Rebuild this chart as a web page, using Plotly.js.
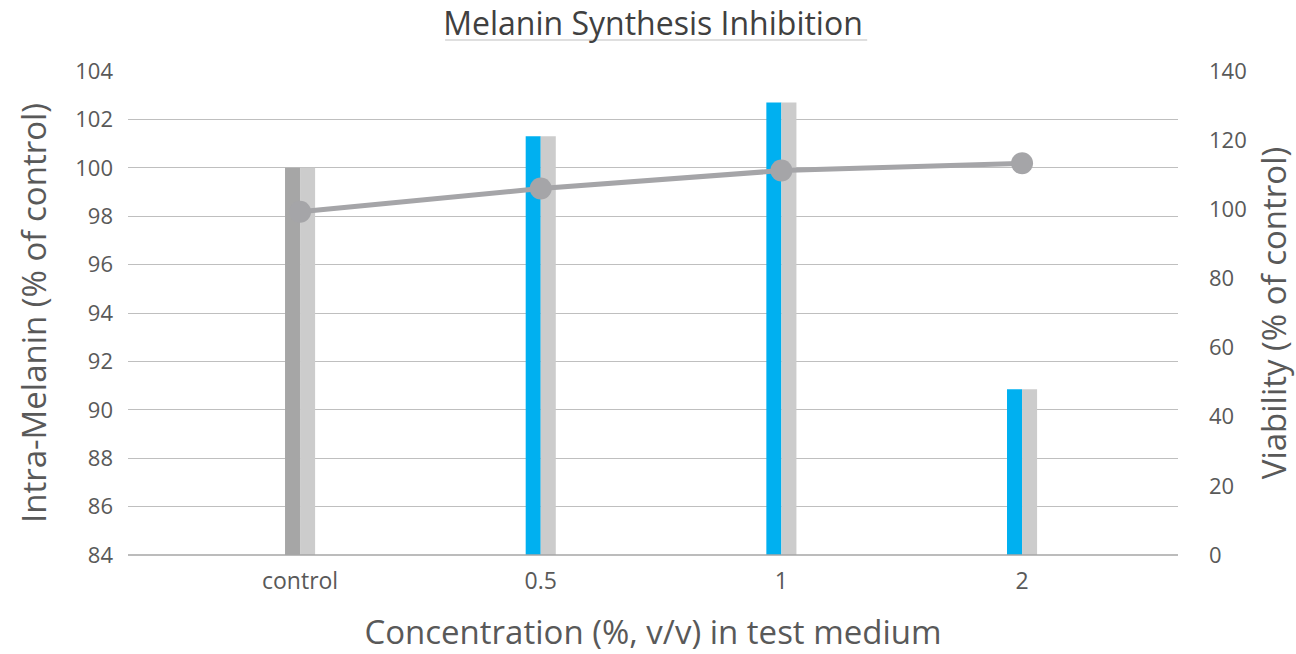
<!DOCTYPE html>
<html>
<head>
<meta charset="utf-8">
<script src="https://cdn.plot.ly/plotly-3.0.1.min.js"></script>
<style>html,body{margin:0;padding:0;background:#fff;}#chart{width:1296px;height:654px;}</style>
</head>
<body>
<div id="chart"></div>
<script>
const categories = ["control", "0.5", "1", "2"];
const melanin = [100, 101.3, 102.7, 90.85];
const melaninShadow = [100, 101.3, 102.7, 90.85];
const viability = [99.3, 106.0, 111.2, 113.3];
const melaninColors = ["#A6A6A6", "#00B0F0", "#00B0F0", "#00B0F0"];

const font = "Open Sans, Noto Sans, sans-serif";
const traces = [
  {type: "bar", x: categories, y: melanin, marker: {color: melaninColors}, yaxis: "y", hoverinfo: "y"},
  {type: "bar", x: categories, y: melaninShadow, marker: {color: "#CCCCCC"}, yaxis: "y", hoverinfo: "y"},
  {type: "scatter", mode: "lines+markers", x: categories, y: viability, yaxis: "y2",
   line: {color: "#A5A5A8", width: 5}, marker: {color: "#A5A5A8", size: 22}}
];
const layout = {
  width: 1296, height: 654,
  margin: {l: 128, r: 118, t: 71, b: 99},
  paper_bgcolor: "#fff", plot_bgcolor: "#fff",
  showlegend: false,
  barmode: "group", bargap: 0.875, bargroupgap: 0,
  font: {family: font, color: "#595959", size: 22},
  title: {text: "Melanin Synthesis Inhibition", font: {family: font, size: 32, color: "#404040"},
          x: 0.5, xref: "paper", y: 0.963, yref: "container", xanchor: "center", yanchor: "middle"},
  xaxis: {type: "category", range: [-0.715, 3.648], showgrid: false, zeroline: false,
          showline: false, ticks: "", tickfont: {size: 23, color: "#595959"},
          ticklabelstandoff: 10,
          title: {text: "Concentration (%, v/v) in test medium", font: {size: 33, color: "#595959"}, standoff: 28}},
  yaxis: {range: [84, 104], dtick: 2, showgrid: true, gridcolor: "#BFBFBF", gridwidth: 1,
          zeroline: false, showline: false, ticks: "", tickfont: {size: 22, color: "#595959"},
          ticklabelstandoff: 14,
          title: {text: "Intra-Melanin (% of control)", font: {size: 33, color: "#595959"}, standoff: 18}},
  yaxis2: {range: [0, 140], dtick: 20, overlaying: "y", side: "right", showgrid: false,
           zeroline: false, showline: false, ticks: "", tickfont: {size: 22, color: "#595959"},
           ticklabelstandoff: 30,
           title: {text: "Viability (% of control)", font: {size: 33, color: "#595959"}, standoff: 18}},
  shapes: [
    {type: "line", xref: "paper", yref: "paper", x0: 0, x1: 1, y0: 0, y1: 0, line: {color: "#A6A6A6", width: 1.5}},
    {type: "line", xref: "paper", yref: "paper", x0: 0.302, x1: 0.704, y0: 1.064, y1: 1.064, line: {color: "#BFBFBF", width: 1.2}}
  ]
};
Plotly.newPlot("chart", traces, layout, {displayModeBar: false, staticPlot: true});
</script>
</body>
</html>
